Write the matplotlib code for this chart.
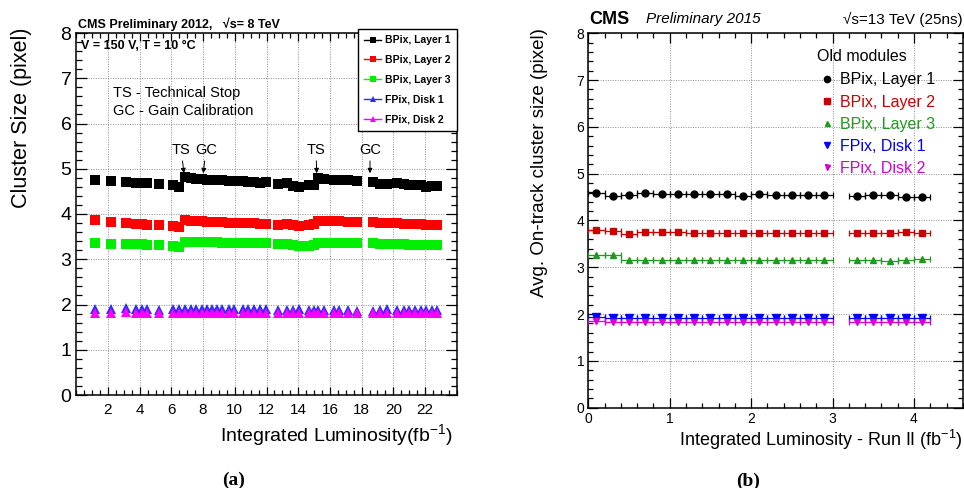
import matplotlib
matplotlib.use('Agg')
import matplotlib.pyplot as plt
from matplotlib.ticker import MultipleLocator, FixedLocator
from matplotlib.lines import Line2D

plt.rcParams['font.family'] = ['Liberation Sans', 'DejaVu Sans']
plt.rcParams['mathtext.fontset'] = 'custom'
plt.rcParams['mathtext.rm'] = 'Liberation Sans'
plt.rcParams['mathtext.it'] = 'Liberation Sans:italic'

# ---------------- data: panel (a) 2012 ----------------
lum_2012 = [1.18, 2.19, 3.12, 3.77, 4.13, 4.48, 5.24, 6.12, 6.48, 6.86,
            7.22, 7.55, 7.91, 8.23, 8.54, 8.86, 9.21, 9.65, 9.95, 10.50,
            10.85, 11.21, 11.59, 11.95, 12.74, 13.27, 13.69, 14.07, 14.70, 15.02,
            15.27, 15.65, 16.26, 16.59, 17.12, 17.73, 18.74, 19.16, 19.62, 20.25,
            20.68, 20.99, 21.37, 21.73, 22.06, 22.42, 22.74]
bpix_l1_2012 = [4.76, 4.74, 4.70, 4.69, 4.68, 4.68, 4.66, 4.63, 4.60, 4.82,
                4.79, 4.78, 4.77, 4.76, 4.76, 4.76, 4.76, 4.74, 4.74, 4.73,
                4.71, 4.70, 4.69, 4.70, 4.67, 4.68, 4.61, 4.60, 4.63, 4.63,
                4.79, 4.77, 4.76, 4.76, 4.75, 4.73, 4.70, 4.67, 4.67, 4.68,
                4.66, 4.63, 4.63, 4.63, 4.60, 4.61, 4.61]
bpix_l2_2012 = [3.86, 3.82, 3.80, 3.78, 3.78, 3.76, 3.76, 3.73, 3.71, 3.86,
                3.85, 3.85, 3.84, 3.83, 3.82, 3.82, 3.82, 3.80, 3.80, 3.80,
                3.80, 3.80, 3.79, 3.79, 3.76, 3.79, 3.75, 3.74, 3.76, 3.77,
                3.84, 3.84, 3.85, 3.84, 3.83, 3.82, 3.82, 3.80, 3.80, 3.80,
                3.79, 3.78, 3.77, 3.77, 3.76, 3.76, 3.76]
bpix_l3_2012 = [3.36, 3.34, 3.34, 3.33, 3.33, 3.32, 3.32, 3.30, 3.28, 3.39,
                3.39, 3.39, 3.39, 3.38, 3.38, 3.38, 3.37, 3.37, 3.37, 3.36,
                3.36, 3.36, 3.35, 3.35, 3.33, 3.34, 3.31, 3.30, 3.30, 3.32,
                3.37, 3.37, 3.36, 3.36, 3.36, 3.35, 3.35, 3.34, 3.33, 3.33,
                3.33, 3.32, 3.32, 3.31, 3.31, 3.31, 3.31]
fpix_d1_2012 = [1.89, 1.89, 1.92, 1.89, 1.90, 1.89, 1.88, 1.89, 1.90, 1.89,
                1.89, 1.89, 1.89, 1.90, 1.89, 1.89, 1.89, 1.89, 1.89, 1.89,
                1.89, 1.89, 1.90, 1.89, 1.88, 1.87, 1.88, 1.89, 1.87, 1.87,
                1.87, 1.87, 1.87, 1.88, 1.87, 1.86, 1.86, 1.88, 1.89, 1.87,
                1.87, 1.87, 1.88, 1.88, 1.88, 1.87, 1.87]
fpix_d2_2012 = [1.82, 1.82, 1.83, 1.82, 1.82, 1.82, 1.82, 1.82, 1.82, 1.82,
                1.82, 1.82, 1.82, 1.82, 1.82, 1.82, 1.82, 1.82, 1.82, 1.82,
                1.82, 1.82, 1.82, 1.82, 1.82, 1.81, 1.82, 1.82, 1.81, 1.81,
                1.81, 1.81, 1.81, 1.81, 1.81, 1.81, 1.81, 1.81, 1.82, 1.81,
                1.81, 1.81, 1.81, 1.81, 1.81, 1.81, 1.81]
labels = ['BPix, Layer 1', 'BPix, Layer 2', 'BPix, Layer 3', 'FPix, Disk 1', 'FPix, Disk 2']
event_names = ['TS', 'GC', 'TS', 'GC']
event_lumi = [6.79, 8.01, 15.17, 18.53]
event_label_x = [6.62, 8.18, 15.12, 18.53]

# ---------------- data: panel (b) 2015 ----------------
lum_2015 = [0.1, 0.3, 0.5, 0.7, 0.9, 1.1, 1.3, 1.5, 1.7, 1.9,
            2.1, 2.3, 2.5, 2.7, 2.9, 3.3, 3.5, 3.7, 3.9, 4.1]
bin_halfwidth = 0.1
bpix_l1_2015 = [4.58, 4.53, 4.55, 4.58, 4.57, 4.56, 4.57, 4.56, 4.57, 4.53,
                4.56, 4.54, 4.54, 4.54, 4.54, 4.53, 4.54, 4.54, 4.51, 4.51]
bpix_l2_2015 = [3.80, 3.78, 3.72, 3.75, 3.75, 3.75, 3.74, 3.74, 3.74, 3.74,
                3.74, 3.74, 3.74, 3.74, 3.74, 3.74, 3.74, 3.74, 3.75, 3.74]
bpix_l3_2015 = [3.27, 3.26, 3.16, 3.16, 3.16, 3.16, 3.16, 3.16, 3.16, 3.16,
                3.16, 3.16, 3.16, 3.16, 3.16, 3.16, 3.15, 3.14, 3.16, 3.17]
fpix_d1_2015 = [1.94, 1.92, 1.92, 1.92, 1.92, 1.92, 1.92, 1.92, 1.92, 1.92,
                1.92, 1.92, 1.92, 1.92, 1.92, 1.92, 1.92, 1.92, 1.92, 1.92]
fpix_d2_2015 = [1.85, 1.84, 1.84, 1.84, 1.84, 1.84, 1.84, 1.84, 1.84, 1.84,
                1.84, 1.84, 1.84, 1.84, 1.84, 1.84, 1.84, 1.84, 1.84, 1.84]

W, H = 964, 488
fig = plt.figure(figsize=(W / 100, H / 100), dpi=100)


def fx(x):
    return x / W


def fy(y):
    return 1 - y / H


# ---------------- panel (a) ----------------
axL = fig.add_axes([fx(76.3), fy(395), 380.4 / W, (395 - 33) / H])
colsL = ['black', '#ff0000', '#00ee00', '#2b2bff', '#ff00ff']
marksL = ['s', 's', 's', '^', '^']
msL = [6.5, 6.5, 6.5, 6.5, 6.5]
seriesL = [bpix_l1_2012, bpix_l2_2012, bpix_l3_2012, fpix_d1_2012, fpix_d2_2012]
for vals, c, m, ms, lab in zip(seriesL, colsL, marksL, msL, labels):
    axL.plot(lum_2012, vals, ls='none', marker=m, ms=ms, color=c, mec=c, mew=0, label=lab, zorder=3)

axL.set_xlim(0, 24)
axL.set_ylim(0, 8)
axL.xaxis.set_major_locator(FixedLocator([2, 4, 6, 8, 10, 12, 14, 16, 18, 20, 22]))
axL.xaxis.set_minor_locator(MultipleLocator(0.5))
axL.yaxis.set_major_locator(MultipleLocator(1))
axL.yaxis.set_minor_locator(MultipleLocator(0.2))
axL.tick_params(which='both', direction='in', top=True, right=True, width=0.9)
axL.tick_params(axis='x', which='major', length=6, labelsize=11, pad=6)
axL.tick_params(axis='x', which='minor', length=3.5)
axL.tick_params(axis='y', which='major', length=8, labelsize=14, pad=3.5)
axL.tick_params(axis='y', which='minor', length=4)
axL.grid(True, which='major', ls=(0, (1, 1.5)), color='#8c8c8c', lw=0.7)
for s in axL.spines.values():
    s.set_linewidth(1.1)

for name, xv, xt in zip(event_names, event_lumi, event_label_x):
    axL.annotate(name, xy=(xv, 4.90), xytext=(xt, 5.42), ha='center', va='center',
                 fontsize=10.5,
                 arrowprops=dict(arrowstyle='-|>', color='black', lw=0.7, mutation_scale=7,
                                 shrinkA=1, shrinkB=0))

handlesL = [Line2D([0], [0], color=c, marker=m, lw=1, ms=5, mew=0) for c, m in zip(colsL, marksL)]
legL = axL.legend(handles=handlesL, labels=labels, loc='upper right',
                  bbox_to_anchor=(fx(457), fy(29)), bbox_transform=fig.transFigure,
                  prop=dict(weight='bold', size=7.5), frameon=True, fancybox=False,
                  edgecolor='black', framealpha=1, borderpad=0.6, labelspacing=0.95,
                  handlelength=1.6, handletextpad=0.4, borderaxespad=0)
legL.get_frame().set_linewidth(1)
legL.set_zorder(10)

fig.text(fx(78), fy(24), 'CMS Preliminary 2012,   \u221as= 8 TeV', weight='bold', fontsize=9,
         ha='left', va='center')
fig.text(fx(81), fy(46), 'V = 150 V, T = 10 \u00b0C', weight='bold', fontsize=9, ha='left', va='center')
fig.text(fx(113), fy(92.5), 'TS - Technical Stop', fontsize=10.5, ha='left', va='center')
fig.text(fx(113), fy(111.5), 'GC - Gain Calibration', fontsize=10.5, ha='left', va='center')
fig.text(fx(22), fy(28), 'Cluster Size (pixel)', rotation=90, ha='center', va='top', fontsize=15.5)
fig.text(fx(453), fy(435), 'Integrated Luminosity(fb$^{-1}$)', ha='right', va='center', fontsize=14)
fig.text(fx(234), fy(480), '(a)', family='Liberation Serif', weight='bold', fontsize=14,
         ha='center', va='center')

# ---------------- panel (b) ----------------
axR = fig.add_axes([fx(588.3), fy(407.7), 374.5 / W, (407.7 - 33.3) / H])
colsR = ['black', '#cc0000', '#1f9a1f', '#0000ff', '#d400d4']
marksR = ['o', 's', '^', 'v', 'v']
msR = [5, 5, 4, 5.5, 4]
seriesR = [bpix_l1_2015, bpix_l2_2015, bpix_l3_2015, fpix_d1_2015, fpix_d2_2015]
for vals, c, m, ms, lab in zip(seriesR, colsR, marksR, msR, labels):
    axR.errorbar(lum_2015, vals, xerr=bin_halfwidth, fmt=m, ms=ms, color=c, mec=c,
                 ecolor=c, elinewidth=0.9, capsize=2.5, capthick=0.9, label=lab, zorder=3)

axR.set_xlim(0, 4.6)
axR.set_ylim(0, 8)
axR.xaxis.set_major_locator(MultipleLocator(1))
axR.xaxis.set_minor_locator(MultipleLocator(0.2))
axR.yaxis.set_major_locator(MultipleLocator(1))
axR.yaxis.set_minor_locator(MultipleLocator(0.2))
axR.tick_params(which='both', direction='in', top=True, right=True, width=0.9, labelsize=10, pad=3)
axR.tick_params(which='major', length=7)
axR.tick_params(which='minor', length=3.5)
axR.grid(True, which='major', ls=(0, (1, 1.5)), color='#8c8c8c', lw=0.7)
for s in axR.spines.values():
    s.set_linewidth(1.1)

handlesR = [Line2D([], [], ls='none', marker=m, ms=ms * 0.9, color=c, mec=c)
            for c, m, ms in zip(colsR, marksR, msR)]
legR = axR.legend(handles=handlesR, labels=labels, loc='upper left',
                  bbox_to_anchor=(fx(817), fy(49)), bbox_transform=fig.transFigure,
                  frameon=False, title='Old modules', title_fontsize=11.5, fontsize=11.5,
                  labelcolor=colsR, alignment='left', handlelength=1.3, handletextpad=0.15,
                  labelspacing=0.45, borderpad=0, borderaxespad=0)
legR._legend_box.sep = 6

fig.text(fx(589), fy(19), 'CMS', weight='bold', fontsize=13, ha='left', va='center')
fig.text(fx(646), fy(19), 'Preliminary 2015', style='italic', fontsize=11, ha='left', va='center')
fig.text(fx(963), fy(19), '\u221as=13 TeV (25ns)', fontsize=11, ha='right', va='center')
fig.text(fx(540), fy(28), 'Avg. On-track cluster size (pixel)', rotation=90, ha='center', va='top',
         fontsize=13.5)
fig.text(fx(963), fy(440), 'Integrated Luminosity - Run II (fb$^{-1}$)', ha='right', va='center',
         fontsize=13)
fig.text(fx(748), fy(481), '(b)', family='Liberation Serif', weight='bold', fontsize=14,
         ha='center', va='center')

fig.savefig('out.png', dpi=100)
